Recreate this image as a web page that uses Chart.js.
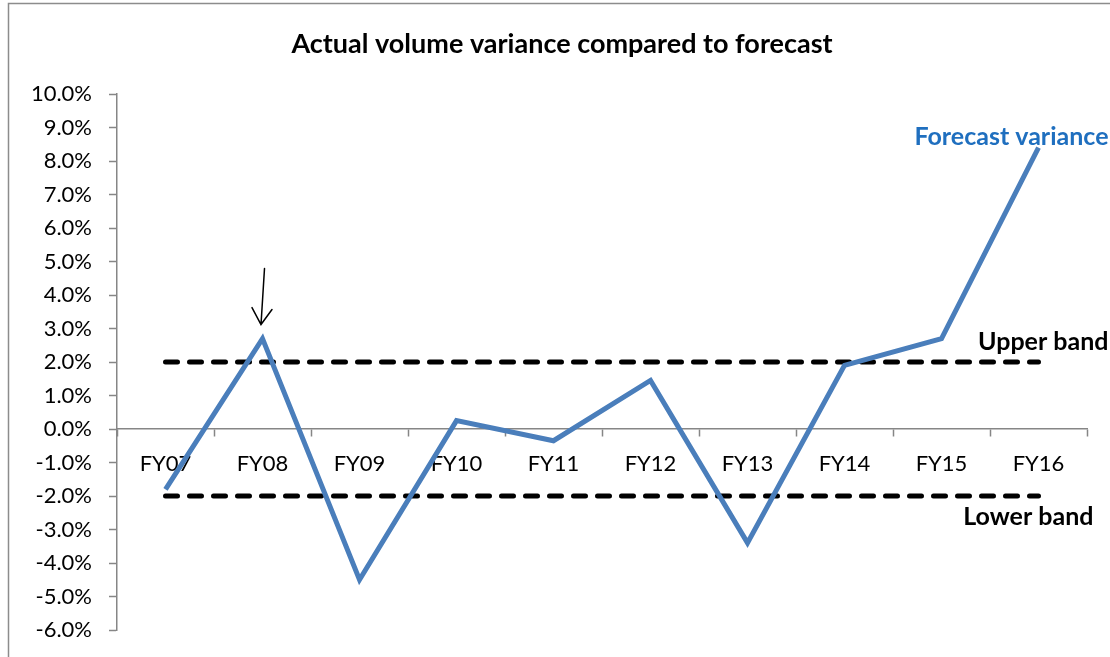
<!DOCTYPE html>
<html>
<head>
<meta charset="utf-8">
<script src="https://cdn.jsdelivr.net/npm/chart.js@4.4.1/dist/chart.umd.min.js"></script>
<style>
  html, body { margin: 0; padding: 0; background: #ffffff; }
  #wrap { width: 1110px; height: 657px; position: relative; }
</style>
</head>
<body>
<div id="wrap"><canvas id="chart" width="1110" height="657"></canvas></div>
<script>
// Fiscal years shown on the category axis
const categories = ['FY07', 'FY08', 'FY09', 'FY10', 'FY11', 'FY12', 'FY13', 'FY14', 'FY15', 'FY16'];
// Actual volume vs forecast, percent
const forecastVariance = [-1.8, 2.7, -4.5, 0.25, -0.35, 1.45, -3.4, 1.9, 2.7, 8.4];
// Tolerance band, percent
const upperBand = [2, 2, 2, 2, 2, 2, 2, 2, 2, 2];
const lowerBand = [-2, -2, -2, -2, -2, -2, -2, -2, -2, -2];
// Value axis range
const yMin = -6;
const yMax = 10;
const yStep = 1;
// Index of the year marked with an arrow
const markedIndex = 1;

const chartTitle = 'Actual volume variance compared to forecast';
const FONT = 'Lato, Carlito, Calibri, "Open Sans", sans-serif';
const AXIS_GREY = '#868686';

// Outer frame of the chart object
const framePlugin = {
  id: 'frame',
  beforeDraw(chart) {
    const ctx = chart.ctx;
    ctx.save();
    ctx.fillStyle = '#ffffff';
    ctx.fillRect(0, 0, chart.width, chart.height);
    ctx.strokeStyle = '#8c8c8c';
    ctx.lineWidth = 1.5;
    ctx.strokeRect(8.5, 3.5, chart.width + 20, chart.height + 20);
    ctx.restore();
  }
};

// Title, series labels next to the lines and the arrow above the marked year
const annotationPlugin = {
  id: 'annotations',
  afterDatasetsDraw(chart) {
    const ctx = chart.ctx;
    const x = chart.scales.x;
    const y = chart.scales.y;
    const last = categories.length - 1;
    ctx.save();

    // chart title, centred over the plot plus value labels
    ctx.textBaseline = 'middle';
    ctx.textAlign = 'center';
    ctx.fillStyle = '#000000';
    ctx.font = 'bold 27px ' + FONT;
    ctx.fillText(chartTitle, (chart.width + 14) / 2, 44);

    ctx.textAlign = 'right';
    ctx.font = 'bold 25px ' + FONT;

    ctx.fillStyle = '#1F6FBF';
    ctx.fillText('Forecast variance', x.getPixelForValue(last) + 70, y.getPixelForValue(forecastVariance[last]) - 11);

    ctx.fillStyle = '#000000';
    ctx.fillText('Upper band', x.getPixelForValue(last) + 70, y.getPixelForValue(upperBand[last]) - 20);
    ctx.fillText('Lower band', x.getPixelForValue(last) + 55, y.getPixelForValue(lowerBand[last]) + 21);

    // arrow pointing down at the marked peak
    const px = x.getPixelForValue(markedIndex);
    const py = y.getPixelForValue(forecastVariance[markedIndex]);
    const tipX = px - 1.5, tipY = py - 14;
    ctx.strokeStyle = '#000000';
    ctx.lineWidth = 1.5;
    ctx.lineCap = 'round';
    ctx.beginPath();
    ctx.moveTo(px + 2, py - 70);
    ctx.lineTo(tipX, tipY);
    ctx.moveTo(tipX - 9, tipY - 17);
    ctx.lineTo(tipX, tipY);
    ctx.lineTo(tipX + 11, tipY - 15);
    ctx.stroke();
    ctx.restore();
  }
};

new Chart(document.getElementById('chart'), {
  type: 'line',
  data: {
    labels: categories,
    datasets: [
      {
        label: 'Upper band',
        data: upperBand,
        borderColor: '#000000',
        borderWidth: 5,
        borderDash: [12, 12],
        borderCapStyle: 'round',
        pointRadius: 0,
        tension: 0,
        order: 2
      },
      {
        label: 'Lower band',
        data: lowerBand,
        borderColor: '#000000',
        borderWidth: 5,
        borderDash: [12, 12],
        borderCapStyle: 'round',
        pointRadius: 0,
        tension: 0,
        order: 3
      },
      {
        label: 'Forecast variance',
        data: forecastVariance,
        borderColor: '#4A7EBB',
        borderWidth: 5,
        borderJoinStyle: 'miter',
        pointRadius: 0,
        tension: 0,
        order: 1
      }
    ]
  },
  options: {
    responsive: false,
    animation: false,
    devicePixelRatio: 1,
    layout: { padding: { left: 10, right: 23, top: 94, bottom: 27 } },
    plugins: {
      legend: { display: false },
      tooltip: { enabled: false },
      title: { display: false }
    },
    scales: {
      x: {
        type: 'category',
        position: { y: 0 },
        offset: true,
        afterFit(scale) { scale.height = 0; },
        border: { display: true, color: AXIS_GREY, width: 1.5 },
        grid: {
          offset: true,
          drawOnChartArea: false,
          drawTicks: true,
          tickLength: 7,
          tickWidth: 1.5,
          tickColor: AXIS_GREY
        },
        ticks: {
          color: '#000000',
          font: { family: FONT, size: 22 },
          padding: 15,
          maxRotation: 0,
          autoSkip: false
        }
      },
      y: {
        type: 'linear',
        min: yMin,
        max: yMax,
        afterFit(scale) {
          scale.width = 107;
          scale.paddingTop = 0;
          scale.paddingBottom = 0;
        },
        border: { display: true, color: AXIS_GREY, width: 1.5 },
        grid: {
          drawOnChartArea: false,
          drawTicks: true,
          tickLength: 8,
          tickWidth: 1.5,
          tickColor: AXIS_GREY
        },
        ticks: {
          stepSize: yStep,
          color: '#000000',
          font: { family: FONT, size: 22 },
          padding: 17,
          callback: (v) => v.toFixed(1) + '%'
        }
      }
    }
  },
  plugins: [framePlugin, annotationPlugin]
});
</script>
</body>
</html>
